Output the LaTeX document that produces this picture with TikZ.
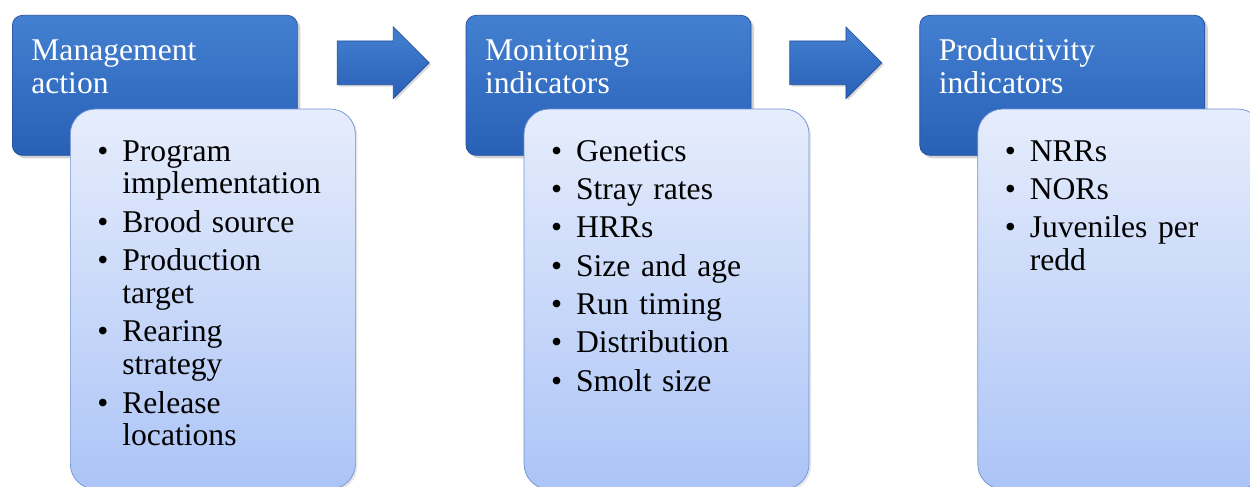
\documentclass[tikz,border=0pt]{standalone}
\usepackage{fontspec}
\setmainfont{Liberation Serif}
\usepackage{xcolor}
\usetikzlibrary{shapes.arrows, shadows, positioning, calc}

\definecolor{headtop}{RGB}{68,128,210}
\definecolor{headbot}{RGB}{40,96,182}
\definecolor{headline}{RGB}{34,78,158}
\definecolor{listtop}{RGB}{230,237,252}
\definecolor{listbot}{RGB}{172,196,246}
\definecolor{listline}{RGB}{112,146,214}

\newcommand{\bul}{\makebox[0.5cm][l]{\textbullet}}
\newcommand{\ind}{\hspace*{0.5cm}}

\begin{document}
\begin{tikzpicture}[
        % 1. STYLES
        base/.style={
            align=left, font=\fontsize{18}{18.7}\selectfont, inner ysep=0pt
        },
        % dark blue title boxes
        head/.style={base, top color=headtop, bottom color=headbot, draw=headline,
            text=white, rounded corners=0.2cm, text width=4.94cm, inner xsep=0.38cm,
            text height=0.9cm, text depth=1.9cm,
            drop shadow={opacity=0.35, shadow xshift=0.06cm, shadow yshift=-0.06cm}},
        % light blue bullet boxes
        list/.style={base, top color=listtop, bottom color=listbot, draw=listline,
            text=black, rounded corners=0.5cm, text width=4.62cm, inner xsep=0.54cm,
            text height=1.04cm, text depth=6.56cm,
            drop shadow={opacity=0.2, shadow xshift=0.04cm, shadow yshift=-0.04cm}},
        % block arrows between the steps
        blockarrow/.style={single arrow, top color=headtop, bottom color=headbot,
            draw=headline, minimum height=1.84cm, text height=0.43cm, text depth=0.43cm,
            single arrow head extend=0.28cm, inner sep=0pt,
            drop shadow={opacity=0.3, shadow xshift=0.04cm, shadow yshift=-0.04cm}}
    ]

        % frame of the picture
        \useasboundingbox (0,0) rectangle (25,-9.74);
        \clip (0,0) rectangle (25,-9.74);

        % 2. TITLE BOXES
        \node[head, anchor=north west] (h1) at (0.24,-0.30) {Management\\action};
        \node[head, right=3.36cm of h1] (h2) {Monitoring\\indicators};
        \node[head, right=3.36cm of h2] (h3) {Productivity\\indicators};

        % 3. BULLET BOXES
        \node[list, anchor=north west] (l1) at ($(h1.south west)+(1.16,0.94)$)
            {\bul Program\\ \ind implementation\\[0.11cm]
             \bul Brood source\\[0.11cm]
             \bul Production\\ \ind target\\[0.11cm]
             \bul Rearing\\ \ind strategy\\[0.11cm]
             \bul Release\\ \ind locations};
        \node[list, anchor=north west] (l2) at ($(h2.south west)+(1.16,0.94)$)
            {\bul Genetics\\[0.11cm]
             \bul Stray rates\\[0.11cm]
             \bul HRRs\\[0.11cm]
             \bul Size and age\\[0.11cm]
             \bul Run timing\\[0.11cm]
             \bul Distribution\\[0.11cm]
             \bul Smolt size};
        \node[list, anchor=north west] (l3) at ($(h3.south west)+(1.16,0.94)$)
            {\bul NRRs\\[0.11cm]
             \bul NORs\\[0.11cm]
             \bul Juveniles per\\ \ind redd};

        % 4. ARROWS
        \node[blockarrow] (a1) at ($(h1.east)!0.5!(h2.west)+(-0.19,0.45)$) {};
        \node[blockarrow] (a2) at ($(h2.east)!0.5!(h3.west)+(-0.21,0.45)$) {};

\end{tikzpicture}
\end{document}
